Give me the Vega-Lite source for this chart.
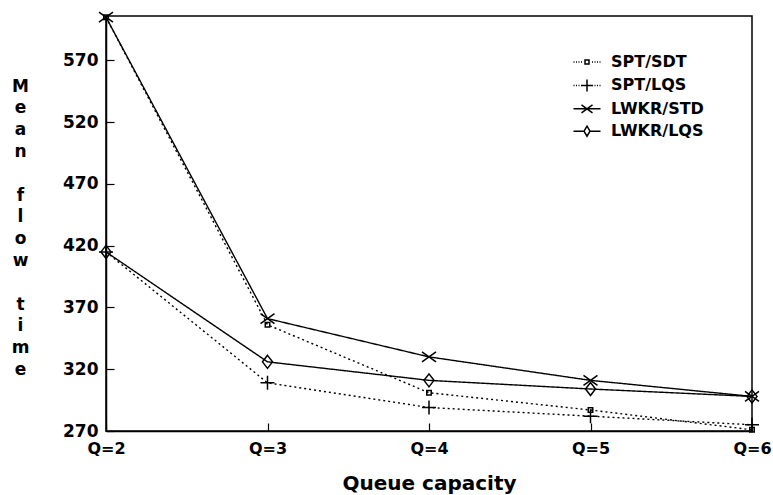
{
  "$schema": "https://vega.github.io/schema/vega-lite/v6.json",
  "width": 646,
  "height": 415,
  "autosize": "none",
  "padding": {"left": 106, "top": 16, "right": 21, "bottom": 64},
  "background": "white",
  "config": {
    "view": {"stroke": "black", "strokeWidth": 1.5},
    "font": "DejaVu Sans",
    "axis": {
      "domainColor": "black", "domainWidth": 1.5,
      "tickColor": "black", "tickWidth": 1.2, "tickSize": -8,
      "labelColor": "black", "labelFont": "DejaVu Sans", "labelFontWeight": "bold",
      "titleColor": "black", "titleFont": "DejaVu Sans", "titleFontWeight": "bold",
      "grid": false
    }
  },
  "data": {
    "values": [
      {"q": "Q=2", "series": "SPT/SDT", "t": 605},
      {"q": "Q=3", "series": "SPT/SDT", "t": 356},
      {"q": "Q=4", "series": "SPT/SDT", "t": 301},
      {"q": "Q=5", "series": "SPT/SDT", "t": 287},
      {"q": "Q=6", "series": "SPT/SDT", "t": 271},
      {"q": "Q=2", "series": "SPT/LQS", "t": 415},
      {"q": "Q=3", "series": "SPT/LQS", "t": 309},
      {"q": "Q=4", "series": "SPT/LQS", "t": 289},
      {"q": "Q=5", "series": "SPT/LQS", "t": 282},
      {"q": "Q=6", "series": "SPT/LQS", "t": 275},
      {"q": "Q=2", "series": "LWKR/STD", "t": 605},
      {"q": "Q=3", "series": "LWKR/STD", "t": 361},
      {"q": "Q=4", "series": "LWKR/STD", "t": 330},
      {"q": "Q=5", "series": "LWKR/STD", "t": 311},
      {"q": "Q=6", "series": "LWKR/STD", "t": 298},
      {"q": "Q=2", "series": "LWKR/LQS", "t": 415},
      {"q": "Q=3", "series": "LWKR/LQS", "t": 326},
      {"q": "Q=4", "series": "LWKR/LQS", "t": 311},
      {"q": "Q=5", "series": "LWKR/LQS", "t": 304},
      {"q": "Q=6", "series": "LWKR/LQS", "t": 298}
    ]
  },
  "encoding": {
    "x": {
      "field": "q", "type": "ordinal", "sort": null,
      "scale": {"type": "point", "padding": 0},
      "axis": {
        "labelAngle": 0, "labelPadding": 17, "labelFontSize": 16,
        "title": "Queue capacity", "titleFontSize": 20,
        "titleX": 323, "titleY": 58, "titleAlign": "center", "titleBaseline": "alphabetic"
      }
    },
    "y": {
      "field": "t", "type": "quantitative",
      "scale": {"domain": [270, 606], "nice": false, "zero": false},
      "axis": {
        "values": [270, 320, 370, 420, 470, 520, 570],
        "labelPadding": 16, "labelFontSize": 17,
        "title": ["M", "e", "a", "n", "\u2800", "f", "l", "o", "w", "\u2800", "t", "i", "m", "e"],
        "titleAngle": 0, "titleX": -86, "titleY": 62, "titleAlign": "center",
        "titleBaseline": "top", "titleFontSize": 17, "titleLineHeight": 21.8
      }
    }
  },
  "layer": [
    {
      "mark": {"type": "line", "color": "black", "strokeWidth": 1.4},
      "encoding": {
        "detail": {"field": "series", "type": "nominal"},
        "strokeDash": {
          "condition": {"test": "indexof(datum.series, 'SPT') === 0", "value": [2, 3]},
          "value": [1, 0]
        }
      }
    },
    {
      "mark": {"type": "point", "filled": false, "color": "black", "strokeWidth": 1.5, "size": 100, "opacity": 1},
      "encoding": {
        "shape": {
          "field": "series", "type": "nominal",
          "scale": {
            "domain": ["SPT/SDT", "SPT/LQS", "LWKR/STD", "LWKR/LQS"],
            "range": [
              "M-0.45,-0.45H0.45V0.45H-0.45Z",
              "M-1.4,0H1.4M0,-1.4V1.4",
              "M-1.4,-1L1.4,1M-1.4,1L1.4,-1",
              "M0,-1.3L1,0L0,1.3L-1,0Z"
            ]
          },
          "legend": null
        }
      }
    },
    {
      "mark": {"type": "point", "filled": false, "color": "black", "strokeWidth": 1.5, "size": 100, "opacity": 0},
      "encoding": {
        "shape": {
          "field": "series", "type": "nominal",
          "scale": {
            "domain": ["SPT/SDT", "SPT/LQS", "LWKR/STD", "LWKR/LQS"],
            "range": [
              "M-2.7,0H-2.5M-2.2,0H-2M-1.7,0H-1.5M-1.2,0H-1M-0.4,-0.4H0.4V0.4H-0.4ZM1,0H1.2M1.5,0H1.7M2,0H2.2M2.5,0H2.7",
              "M-2.7,0H-2.5M-2.2,0H-2M-1.7,0H-1.5M-1.2,0H1.2M0,-1.2V1.2M1.5,0H1.7M2,0H2.2M2.5,0H2.7",
              "M-2.7,0H2.7M-1.1,-0.8L1.1,0.8M-1.1,0.8L1.1,-0.8",
              "M-2.7,0H-0.6M0.6,0H2.7M0,-1L0.6,0L0,1L-0.6,0Z"
            ]
          },
          "legend": {
            "title": null, "orient": "none", "legendX": 473, "legendY": 38,
            "padding": 0, "symbolSize": 100, "rowPadding": 6.4,
            "labelFont": "DejaVu Sans", "labelFontWeight": "bold", "labelFontSize": 16,
            "labelColor": "black", "labelOffset": 16,
            "symbolOpacity": 1, "symbolFillColor": "transparent",
            "symbolStrokeColor": "black", "symbolStrokeWidth": 1.5
          }
        }
      }
    }
  ],
  "resolve": {"scale": {"shape": "independent"}, "legend": {"shape": "independent"}}
}
